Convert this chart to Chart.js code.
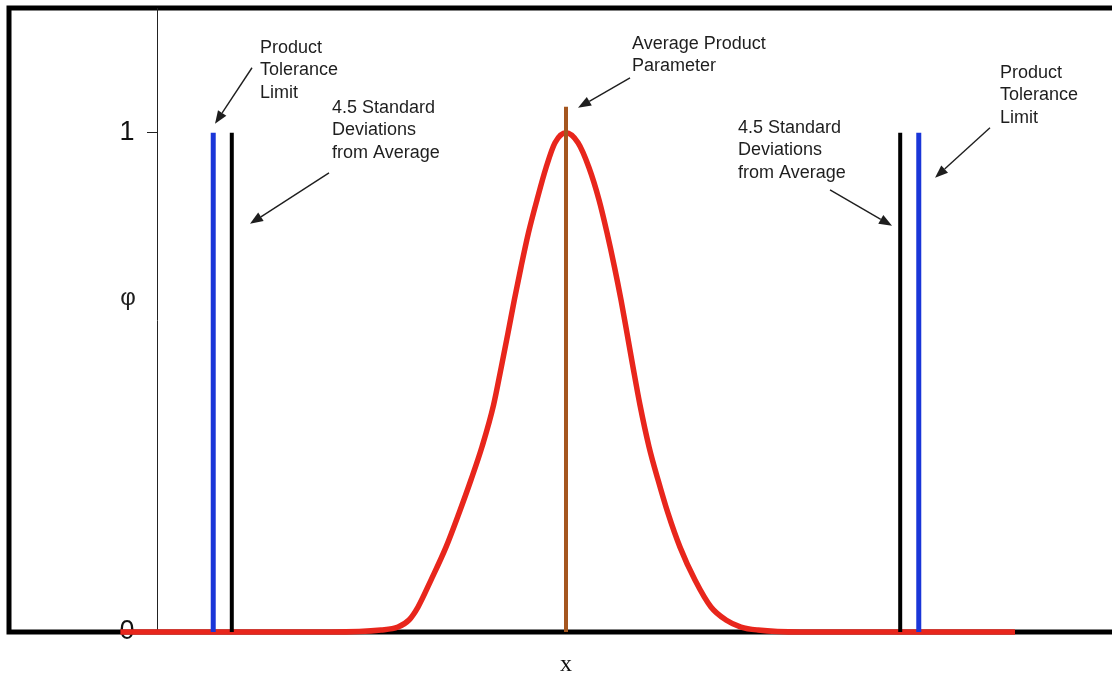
<!DOCTYPE html>
<html>
<head>
<meta charset="utf-8">
<script src="https://cdn.jsdelivr.net/npm/chart.js@4.4.1/dist/chart.umd.min.js"></script>
<style>
  html, body { margin: 0; padding: 0; background: #fff; overflow: hidden; width: 1112px; height: 681px; }
  #wrap { position: absolute; left: 0; top: 0; width: 1126px; height: 681px; }
  canvas { display: block; }
</style>
</head>
<body>
<div id="wrap"><canvas id="c" width="1126" height="681" style="width:1126px;height:681px"></canvas></div>
<script>
// x measured in standard deviations from the average; phi normalised to a peak of 1
const curveX   = [-6.0, -3.164, -2.491, -2.262, -2.114, -1.993, -1.818, -1.616, -1.441, -1.279, -1.131, -0.975, -0.871, -0.781, -0.696, -0.606, -0.505, -0.390, -0.269, -0.148, 0,
                  0.162, 0.310, 0.444, 0.552, 0.653, 0.741, 0.821, 0.902, 0.996, 1.118, 1.239, 1.373, 1.535, 1.737, 1.952, 2.154, 2.356, 2.585, 3.151, 6.046];
const curvePhi = [0, 0, 0.004, 0.010, 0.024, 0.050, 0.104, 0.170, 0.238, 0.305, 0.371, 0.455, 0.531, 0.599, 0.665, 0.731, 0.800, 0.866, 0.930, 0.980, 1.0,
                  0.980, 0.930, 0.866, 0.800, 0.731, 0.665, 0.599, 0.531, 0.455, 0.371, 0.305, 0.238, 0.170, 0.104, 0.050, 0.024, 0.010, 0.004, 0, 0];
const toleranceLimitX = [-4.75, 4.75];
const sdLimitX        = [-4.5, 4.5];
const averageX        = [0];
const limitLineTop    = 1.0;
const averageLineTop  = 1.052;
const yTickValues     = [0, 1];
const xRange          = [-7.5, 7.5];
const yRange          = [0, 1.25];
const yAxisAtX        = -5.5;
const yLabelsAtX      = -5.81;

const annotationTexts = [
  { x: -4.120, y: 1.1603, lines: ['Product', 'Tolerance', 'Limit'] },
  { x: -3.151, y: 1.0401, lines: ['4.5 Standard', 'Deviations', 'from Average'] },
  { x:  0.889, y: 1.1683, lines: ['Average Product', 'Parameter'] },
  { x:  2.316, y: 1.0000, lines: ['4.5 Standard', 'Deviations', 'from Average'] },
  { x:  5.844, y: 1.1102, lines: ['Product', 'Tolerance', 'Limit'] }
];
const annotationArrows = [
  { from: [-4.228, 1.1303], to: [-4.726, 1.0180] },
  { from: [-3.191, 0.9198], to: [-4.255, 0.8176] },
  { from: [ 0.862, 1.1102], to: [ 0.162, 1.0501] },
  { from: [ 3.555, 0.8858], to: [ 4.390, 0.8136] },
  { from: [ 5.709, 1.0100], to: [ 4.969, 0.9098] }
];
const phiLabel = { x: -5.898, y: 0.669, text: 'φ' };

function vline(x, top) { return [{ x: x, y: 0 }, { x: x, y: top }]; }

const datasets = [];
toleranceLimitX.forEach(x => datasets.push({ data: vline(x, limitLineTop), borderColor: '#1a36d8', borderWidth: 5, order: 1 }));
sdLimitX.forEach(x => datasets.push({ data: vline(x, limitLineTop), borderColor: '#000000', borderWidth: 4, order: 1 }));
averageX.forEach(x => datasets.push({ data: vline(x, averageLineTop), borderColor: '#a5561f', borderWidth: 4, order: 1 }));
datasets.push({
  data: curveX.map((x, i) => ({ x: x, y: curvePhi[i] })),
  borderColor: '#e8261c', borderWidth: 5.5, cubicInterpolationMode: 'monotone', order: 10,
  borderCapStyle: 'butt', borderJoinStyle: 'round'
});
datasets.forEach(d => { d.pointRadius = 0; d.showLine = true; d.fill = false; d.clip = false; d.yAxisID = 'y'; });

const framePlugin = {
  id: 'frame',
  beforeDraw(chart) {
    const { ctx, chartArea: a } = chart;
    ctx.save();
    ctx.strokeStyle = '#000';
    ctx.lineWidth = 5;
    ctx.strokeRect(a.left, a.top, a.right - a.left, a.bottom - a.top);
    ctx.restore();
  }
};

const annotationPlugin = {
  id: 'notes',
  afterDatasetsDraw(chart) {
    const { ctx, scales: { x: sx, y: sy } } = chart;
    ctx.save();
    ctx.fillStyle = '#1e1e1e';
    ctx.font = '18px "Liberation Sans", Arial, sans-serif';
    ctx.textAlign = 'left';
    ctx.textBaseline = 'alphabetic';
    annotationTexts.forEach(t => {
      const px = sx.getPixelForValue(t.x), py = sy.getPixelForValue(t.y);
      t.lines.forEach((l, i) => ctx.fillText(l, px, py + i * 22.5));
    });
    ctx.strokeStyle = '#1e1e1e';
    ctx.lineWidth = 1.4;
    annotationArrows.forEach(a => {
      const x1 = sx.getPixelForValue(a.from[0]), y1 = sy.getPixelForValue(a.from[1]);
      const x2 = sx.getPixelForValue(a.to[0]), y2 = sy.getPixelForValue(a.to[1]);
      const ang = Math.atan2(y2 - y1, x2 - x1);
      const len = 13, hw = 5;
      const bx = x2 - len * Math.cos(ang), by = y2 - len * Math.sin(ang);
      ctx.beginPath(); ctx.moveTo(x1, y1); ctx.lineTo(bx, by); ctx.stroke();
      ctx.beginPath();
      ctx.moveTo(x2, y2);
      ctx.lineTo(bx + hw * Math.sin(ang), by - hw * Math.cos(ang));
      ctx.lineTo(bx - hw * Math.sin(ang), by + hw * Math.cos(ang));
      ctx.closePath(); ctx.fill();
    });
    ctx.font = '24px "Liberation Sans", Arial, sans-serif';
    ctx.textAlign = 'center';
    ctx.textBaseline = 'middle';
    ctx.fillText(phiLabel.text, sx.getPixelForValue(phiLabel.x), sy.getPixelForValue(phiLabel.y));
    ctx.restore();
  }
};

const tickFont = { family: '"Liberation Sans", Arial, sans-serif', size: 27, lineHeight: 0.5 };
const setTicks = s => { s.ticks = yTickValues.map(v => ({ value: v })); };

new Chart(document.getElementById('c'), {
  type: 'scatter',
  data: { datasets: datasets },
  options: {
    responsive: false,
    animation: false,
    devicePixelRatio: 1,
    layout: { autoPadding: false, padding: { left: 9, top: 8, right: 3, bottom: 2.2 } },
    plugins: { legend: { display: false }, tooltip: { enabled: false } },
    scales: {
      x: {
        type: 'linear', min: xRange[0], max: xRange[1], position: 'bottom',
        ticks: { display: false },
        grid: { display: false, drawTicks: false },
        border: { display: false },
        title: { display: true, text: 'x', color: '#111', font: { family: '"Liberation Serif", "DejaVu Serif", serif', size: 24 }, padding: { top: 18, bottom: 0 } }
      },
      y: {
        type: 'linear', min: yRange[0], max: yRange[1], position: { x: yAxisAtX },
        afterBuildTicks: setTicks,
        ticks: { display: false, padding: 0, font: tickFont },
        grid: { display: true, drawOnChartArea: false, drawTicks: true, tickLength: 10, color: '#222', lineWidth: 1 },
        border: { display: true, color: '#222', width: 1 }
      },
      yLabels: {
        type: 'linear', min: yRange[0], max: yRange[1], position: { x: yLabelsAtX },
        afterBuildTicks: setTicks,
        ticks: { color: '#111', padding: 0, font: tickFont, callback: v => String(v) },
        grid: { display: false, drawTicks: false },
        border: { display: false }
      }
    }
  },
  plugins: [framePlugin, annotationPlugin]
});
</script>
</body>
</html>
